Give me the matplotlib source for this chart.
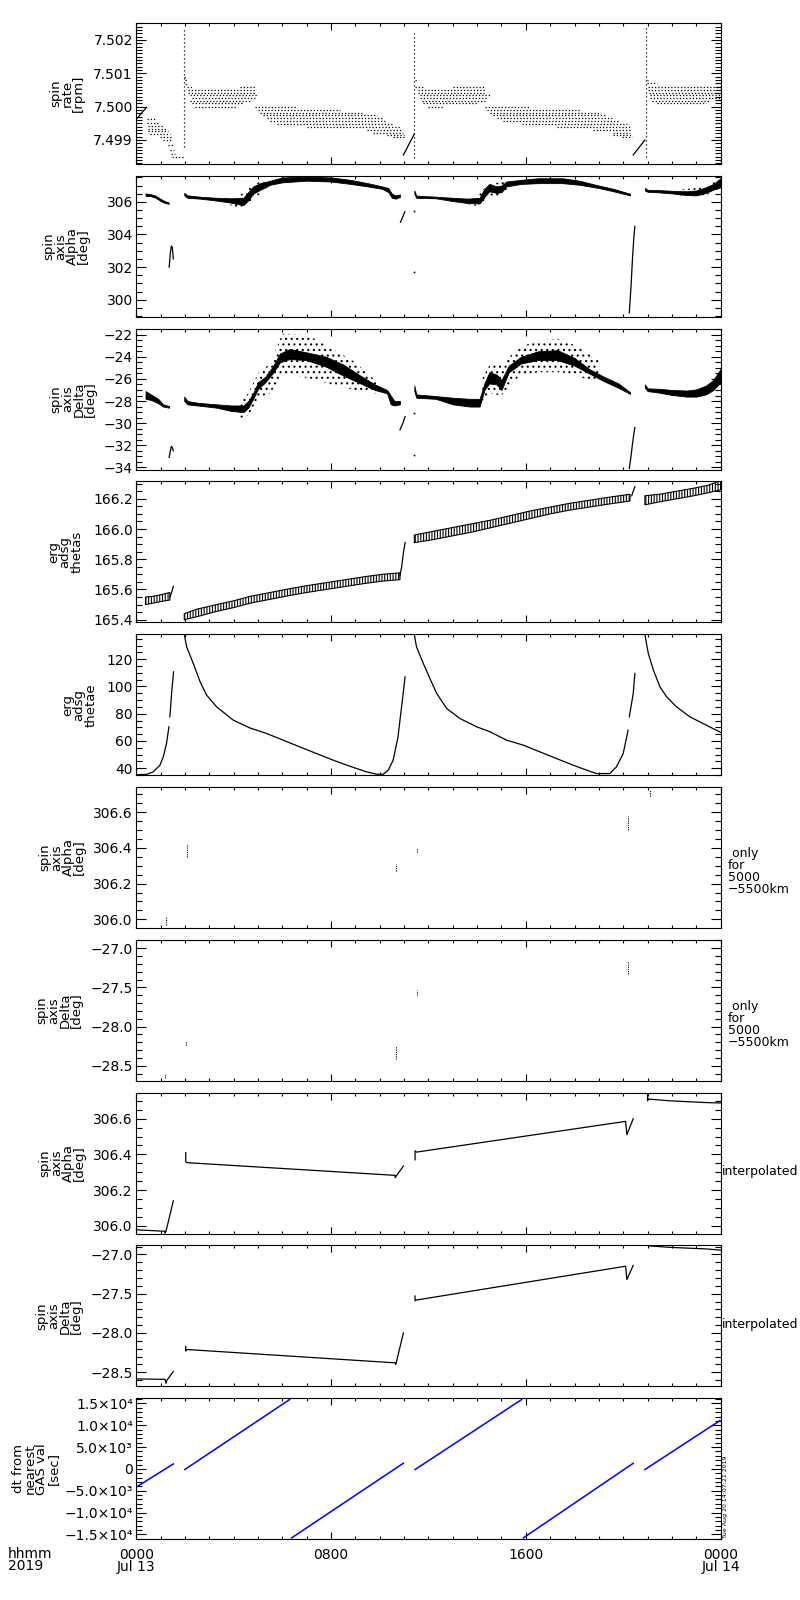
import matplotlib
matplotlib.use('Agg')
import matplotlib.pyplot as plt
from matplotlib.ticker import MultipleLocator, FixedLocator, FixedFormatter, FuncFormatter

plt.rcParams['font.family'] = ['DejaVu Sans']
plt.rcParams['hatch.linewidth'] = 0.8

# time in hours after 2019-07-13 00:00
xtick_hours = [0, 8, 16, 24]
xtick_labels = ['0000\nJul 13', '0800', '1600', '0000\nJul 14']

# ---- panel 1: spin rate [rpm] (quantised rows of points)
rpm_row_level = [7.49962, 7.49950, 7.49942, 7.49934, 7.49926, 7.49918, 7.49910, 7.49900, 7.49885, 7.49870, 7.49858, 7.49850,
                 7.50088, 7.50080, 7.50068,
                 7.50058, 7.50058, 7.50050, 7.50042, 7.50034, 7.50026, 7.50018, 7.50010, 7.49998,
                 7.49998, 7.49990, 7.49982, 7.49974, 7.49966, 7.49958, 7.49948, 7.49940, 7.49930, 7.49922, 7.49915, 7.49908,
                 7.50080, 7.50058, 7.50058, 7.50050, 7.50042, 7.50034, 7.50026, 7.50018, 7.50010, 7.49998,
                 7.49998, 7.49990, 7.49982, 7.49974, 7.49966, 7.49958, 7.49948, 7.49940, 7.49930, 7.49922, 7.49915, 7.49908,
                 7.50080, 7.50072, 7.50058, 7.50050, 7.50042, 7.50034, 7.50026, 7.50018, 7.50010]
rpm_row_t0 = [0.42, 0.42, 0.48, 0.48, 0.48, 0.55, 0.97, 1.11, 1.31, 1.38, 1.42, 1.45,
              1.97, 1.99, 2.00,
              2.07, 4.25, 2.14, 2.14, 2.20, 2.27, 2.20, 2.27, 2.41,
              4.87, 5.00, 5.07, 5.20, 5.35, 5.49, 5.76, 7.00, 9.46, 9.73, 10.28, 10.55,
              11.46, 11.46, 13.02, 11.58, 11.58, 11.65, 11.65, 11.72, 11.79, 11.99,
              14.32, 14.39, 14.53, 14.66, 14.80, 15.07, 15.83, 17.26, 18.77, 19.59, 19.59, 19.93,
              20.96, 20.96, 21.03, 21.03, 21.07, 21.10, 21.12, 21.17, 21.37]
rpm_row_t1 = [0.77, 0.97, 1.11, 1.24, 1.31, 1.38, 1.42, 1.45, 1.52, 1.55, 1.60, 1.93,
              2.03, 2.07, 2.10,
              2.34, 4.87, 4.87, 4.87, 4.94, 4.94, 4.66, 4.39, 4.10,
              6.58, 8.36, 9.30, 9.87, 10.14, 10.28, 10.55, 10.83, 10.90, 10.95, 11.00, 11.00,
              11.55, 11.80, 14.32, 14.32, 14.32, 14.53, 14.39, 14.39, 13.98, 12.61,
              16.17, 18.22, 19.04, 19.31, 19.59, 19.86, 20.14, 20.28, 20.28, 20.28, 20.35, 20.35,
              21.03, 21.37, 24.0, 24.0, 24.0, 24.0, 24.0, 23.56, 23.42]
rpm_spike_t = [1.97, 11.42, 20.92]
rpm_spike_lo = [7.49880, 7.49845, 7.49850]
rpm_spike_hi = [7.50232, 7.50222, 7.50245]
rpm_ramp_t = [[0.0, 0.42], [10.97, 11.42], [20.41, 20.89]]
rpm_ramp_v = [[7.49962, 7.49998], [7.49855, 7.49918], [7.49855, 7.49900]]

# ---- panel 2: spin axis alpha [deg]
alpha_band_t = [[0.38, 0.6, 0.8, 1.0, 1.15, 1.33],
                [1.97, 2.1, 2.6, 3.3, 3.9, 4.4, 4.6, 4.8, 5.1, 5.5, 6.0, 7.0, 8.0, 8.8, 9.5, 10.1, 10.35, 10.5, 10.65, 10.83],
                [11.42, 11.5, 12.3, 13.0, 13.6, 14.1, 14.3, 14.5, 14.8, 15.0, 15.2, 15.8, 16.5, 17.5, 18.2, 19.0, 19.6, 20.28],
                [20.89, 21.0, 21.5, 22.0, 22.6, 23.0, 23.4, 23.7, 24.0]]
alpha_band_lo = [[306.37, 306.35, 306.25, 306.05, 305.95, 305.88],
                 [306.40, 306.25, 306.20, 306.08, 305.95, 305.80, 306.10, 306.50, 306.75, 307.05, 307.20, 307.30, 307.25, 307.10, 306.95, 306.80, 306.60, 306.25, 306.20, 306.30],
                 [306.50, 306.25, 306.22, 306.05, 305.93, 305.90, 306.30, 306.65, 306.55, 306.60, 306.95, 307.10, 307.15, 307.15, 307.05, 306.85, 306.65, 306.40],
                 [306.70, 306.62, 306.58, 306.52, 306.42, 306.40, 306.55, 306.75, 306.90]]
alpha_band_hi = [[306.52, 306.47, 306.38, 306.18, 306.06, 305.96],
                 [306.55, 306.40, 306.32, 306.25, 306.22, 306.25, 306.60, 306.95, 307.15, 307.30, 307.50, 307.55, 307.50, 307.35, 307.15, 306.95, 306.85, 306.50, 306.40, 306.45],
                 [306.70, 306.38, 306.32, 306.25, 306.20, 306.25, 306.80, 307.10, 306.95, 307.00, 307.25, 307.35, 307.45, 307.45, 307.30, 307.00, 306.80, 306.50],
                 [306.85, 306.74, 306.72, 306.68, 306.65, 306.70, 306.90, 307.10, 307.45]]
alpha_cloud_t = [[3.6, 4.2, 4.6, 5.0, 5.4], [13.3, 14.0, 14.4, 14.9, 15.3], [22.3, 23.0, 23.6, 24.0]]
alpha_cloud_lo = [[305.95, 305.6, 305.9, 306.4, 306.9], [305.9, 305.75, 306.2, 306.4, 306.8], [306.35, 306.3, 306.5, 306.8]]
alpha_cloud_hi = [[306.3, 306.35, 306.8, 307.2, 307.4], [306.25, 306.35, 307.0, 307.2, 307.3], [306.75, 306.85, 307.1, 307.5]]
alpha_line_t = [[1.35, 1.40, 1.44, 1.48, 1.52], [10.85, 10.95, 11.03], [20.25, 20.32, 20.38, 20.44, 20.48]]
alpha_line_v = [[302.0, 302.9, 303.3, 303.2, 302.5], [304.75, 305.1, 305.4], [299.2, 300.8, 302.5, 303.9, 304.5]]
alpha_dot_t = [11.42, 11.42]
alpha_dot_v = [305.45, 301.7]

# ---- panel 3: spin axis delta [deg]
delta_band_t = [[0.38, 0.6, 0.9, 1.1, 1.35],
                [1.97, 2.1, 2.5, 3.3, 3.9, 4.4, 4.6, 4.8, 5.0, 5.3, 5.6, 5.9, 6.3, 7.0, 7.8, 8.5, 9.2, 9.8, 10.3, 10.45, 10.6, 10.83],
                [11.42, 11.5, 12.3, 13.0, 13.7, 14.1, 14.3, 14.5, 14.8, 15.0, 15.3, 15.8, 16.5, 17.3, 18.0, 18.6, 19.2, 19.8, 20.28],
                [20.89, 21.0, 21.5, 22.0, 22.6, 23.0, 23.4, 23.7, 24.0]]
delta_band_lo = [[-27.8, -27.9, -28.2, -28.5, -28.6],
                 [-28.0, -28.3, -28.4, -28.6, -28.9, -29.0, -28.6, -27.8, -26.9, -26.3, -25.5, -24.5, -24.2, -24.3, -24.9, -25.7, -26.4, -27.0, -27.3, -28.3, -28.4, -28.3],
                 [-27.1, -27.7, -27.8, -28.3, -28.5, -28.5, -27.0, -26.4, -26.5, -27.0, -25.4, -24.6, -24.3, -24.3, -24.8, -25.5, -26.2, -26.8, -27.35],
                 [-26.8, -27.1, -27.25, -27.45, -27.6, -27.6, -27.4, -27.0, -26.3]]
delta_band_hi = [[-27.1, -27.4, -27.8, -28.3, -28.45],
                 [-27.6, -28.0, -28.15, -28.3, -28.4, -28.4, -28.0, -27.3, -26.3, -25.8, -24.9, -23.7, -23.3, -23.6, -24.0, -24.7, -25.7, -26.5, -27.0, -27.5, -28.0, -28.0],
                 [-26.6, -27.4, -27.55, -27.7, -27.8, -27.8, -26.4, -25.4, -25.6, -26.1, -24.8, -24.0, -23.5, -23.4, -24.1, -25.1, -25.8, -26.4, -27.2],
                 [-26.5, -26.85, -26.9, -27.0, -27.05, -26.95, -26.6, -26.1, -25.1]]
delta_cloud_t = [[4.2, 4.6, 5.0, 5.5, 6.0, 7.0, 8.0, 9.0, 10.0],
                 [14.2, 14.5, 15.0, 15.7, 16.5, 17.5, 18.3, 19.0]]
delta_cloud_lo = [[-29.6, -29.3, -27.8, -27.3, -25.6, -25.9, -26.5, -27.0, -27.4],
                  [-28.0, -27.3, -27.5, -25.8, -25.4, -25.4, -25.9, -26.3]]
delta_cloud_hi = [[-28.2, -27.3, -25.5, -24.6, -21.9, -22.0, -23.2, -24.5, -26.5],
                  [-26.0, -24.8, -24.7, -23.2, -22.5, -22.4, -23.3, -24.3]]
delta_line_t = [[1.35, 1.40, 1.44, 1.48, 1.52], [10.83, 10.95, 11.04], [20.25, 20.32, 20.38, 20.44, 20.48]]
delta_line_v = [[-33.1, -32.5, -32.1, -32.2, -32.5], [-30.6, -30.0, -29.4], [-34.1, -33.0, -31.9, -30.9, -30.4]]
delta_dot_t = [11.42, 11.42]
delta_dot_v = [-29.1, -32.9]

# ---- panel 4: erg adsg thetas
thetas_band_t = [[0.38, 0.7, 1.0, 1.38],
                 [1.97, 2.5, 3.3, 4.0, 4.7, 5.5, 6.3, 7.0, 7.8, 8.6, 9.4, 10.1, 10.83],
                 [11.42, 12.2, 13.0, 13.8, 14.6, 15.4, 16.2, 17.0, 17.8, 18.6, 19.4, 20.28],
                 [20.89, 21.5, 22.2, 22.9, 23.5, 24.0]]
thetas_band_lo = [[165.50, 165.51, 165.52, 165.53],
                  [165.40, 165.42, 165.455, 165.48, 165.51, 165.535, 165.56, 165.58, 165.60, 165.62, 165.64, 165.655, 165.665],
                  [165.91, 165.93, 165.955, 165.98, 166.01, 166.04, 166.07, 166.10, 166.125, 166.145, 166.165, 166.185],
                  [166.16, 166.18, 166.20, 166.22, 166.24, 166.26]]
thetas_band_hi = [[165.55, 165.555, 165.565, 165.58],
                  [165.44, 165.47, 165.50, 165.525, 165.555, 165.58, 165.605, 165.625, 165.645, 165.665, 165.685, 165.70, 165.71],
                  [165.96, 165.985, 166.01, 166.035, 166.06, 166.09, 166.12, 166.145, 166.17, 166.19, 166.21, 166.23],
                  [166.22, 166.23, 166.25, 166.27, 166.29, 166.32]]
thetas_line_t = [[1.38, 1.45, 1.52], [10.83, 10.9, 10.97, 11.04], [20.35, 20.41, 20.48]]
thetas_line_v = [[165.55, 165.58, 165.62], [165.69, 165.75, 165.84, 165.91], [166.22, 166.25, 166.28]]

# ---- panel 5: erg adsg thetae
thetae_t = [[0.0, 0.42, 0.7, 0.97, 1.11, 1.24, 1.34],
            [1.38, 1.45, 1.53],
            [1.95, 2.07, 2.34, 2.62, 2.89, 3.3, 3.98, 4.66, 5.35, 6.03, 6.71, 7.4, 8.09, 8.77, 9.45, 9.87,
             10.14, 10.35, 10.55, 10.75, 10.83, 10.93, 11.04],
            [11.40, 11.51, 11.79, 12.06, 12.34, 12.75, 13.29, 13.98, 14.53, 15.21, 15.9, 16.58, 17.26, 17.95,
             18.5, 18.9, 19.45, 19.72, 20.0, 20.2],
            [20.25, 20.41, 20.48],
            [20.87, 21.03, 21.24, 21.51, 21.78, 22.19, 22.74, 23.28, 24.0]]
thetae_v = [[35.2, 35.5, 37.4, 42.2, 48.4, 58.1, 70.4],
            [77.7, 95.0, 110.7],
            [140.0, 129.0, 116.8, 103.4, 93.6, 85.0, 75.3, 69.6, 65.5, 60.6, 55.7, 50.8, 45.9, 41.5, 37.4, 35.6,
             35.6, 38.6, 45.9, 63.0, 75.3, 90.0, 107.0],
            [140.0, 129.0, 116.8, 105.8, 94.8, 83.8, 76.5, 70.4, 66.7, 60.6, 56.9, 52.0, 47.1, 42.2,
             38.6, 36.1, 36.1, 41.0, 50.8, 67.9],
            [77.7, 94.8, 109.5],
            [140.0, 124.2, 111.9, 99.7, 92.4, 85.0, 77.7, 72.8, 66.3]]

# ---- panels 6/7: values only for 5000-5500 km (short vertical marks)
alpha_only_t = [1.20, 2.08, 10.65, 11.51, 20.20, 21.08]
alpha_only_lo = [305.970, 306.350, 306.270, 306.380, 306.500, 306.690]
alpha_only_hi = [306.015, 306.420, 306.310, 306.400, 306.580, 306.725]
delta_only_t = [1.18, 2.06, 10.65, 11.51, 20.20]
delta_only_lo = [-28.66, -28.24, -28.41, -27.60, -27.33]
delta_only_hi = [-28.60, -28.18, -28.25, -27.54, -27.16]

# ---- panels 8/9: interpolated
alpha_interp_t = [[0.0, 1.18, 1.18, 1.22, 1.52],
                  [2.03, 2.03, 2.07, 10.63, 10.63, 10.97],
                  [11.45, 11.45, 11.51, 20.10, 20.15, 20.41],
                  [21.0, 21.0, 21.03, 21.92, 23.42, 24.0]]
alpha_interp_v = [[305.978, 305.970, 305.960, 305.970, 306.140],
                  [306.410, 306.360, 306.354, 306.283, 306.270, 306.335],
                  [306.370, 306.420, 306.413, 306.585, 306.510, 306.600],
                  [306.745, 306.700, 306.710, 306.700, 306.690, 306.688]]
delta_interp_t = [[0.0, 1.18, 1.22, 1.26, 1.52],
                  [2.03, 2.03, 2.07, 10.63, 10.66, 10.97],
                  [11.45, 11.45, 11.51, 20.10, 20.15, 20.41],
                  [21.0, 21.03, 21.92, 23.42, 24.0]]
delta_interp_v = [[-28.585, -28.59, -28.64, -28.60, -28.49],
                  [-28.17, -28.23, -28.21, -28.38, -28.40, -28.00],
                  [-27.53, -27.59, -27.58, -27.15, -27.32, -27.14],
                  [-26.87, -26.89, -26.91, -26.93, -26.945]]

# ---- panel 10: dt from nearest GAS val [sec]
dt_t = [[0.0, 1.52], [1.99, 6.30], [6.38, 10.97], [11.45, 15.83], [15.90, 20.41], [20.89, 23.97]]
dt_v = [[-4170, 1140], [-150, 15900], [-15800, 1300], [-150, 15900], [-15800, 1290], [-150, 11060]]
dt_tick_values = [-15000, -10000, -5000, 0, 5000, 10000, 15000]
dt_tick_labels = ['\u22121.5\u00d710\u2074', '\u22121.0\u00d710\u2074', '\u22125.0\u00d710\u00b3', '0',
                  '5.0\u00d710\u00b3', '1.0\u00d710\u2074', '1.5\u00d710\u2074']

ylabels = ['spin\nrate\n[rpm]', 'spin\naxis\nAlpha\n[deg]', 'spin\naxis\nDelta\n[deg]', 'erg\nadsg\nthetas',
           'erg\nadsg\nthetae', 'spin\naxis\nAlpha\n[deg]', 'spin\naxis\nDelta\n[deg]', 'spin\naxis\nAlpha\n[deg]',
           'spin\naxis\nDelta\n[deg]', 'dt from\nnearest\nGAS val\n[sec]']
ylims = [(7.49828, 7.50251), (298.95, 307.6), (-34.2, -21.45), (165.382, 166.315), (34.9, 138.3),
         (305.951, 306.742), (-28.693, -26.893), (305.957, 306.746), (-28.68, -26.885), (-16100, 16200)]
ymajor = [0.001, 2, 2, 0.2, 20, 0.2, 0.5, 0.2, 0.5, None]
yminor = [0.0001, 0.5, 0.5, 0.05, 5, 0.05, 0.1, 0.05, 0.1, 1000]
yfmt = ['%.3f', '%d', '%d', '%.1f', '%d', '%.1f', '%.1f', '%.1f', '%.1f', None]
label_x = [-0.088, -0.079, -0.067, -0.091, -0.067, -0.086, -0.091, -0.086, -0.091, -0.131]


def fmt_func(f):
    return FuncFormatter(lambda v, p: (f % v).replace('-', '\u2212'))


fig = plt.figure(figsize=(8, 16), dpi=100)
axes = []
for i in range(10):
    top = 23 + 152.8 * i
    ax = fig.add_axes([136.3 / 800, 1 - (top + 141) / 1600, 584.3 / 800, 141 / 1600])
    ax.set_xlim(0, 24)
    ax.set_ylim(*ylims[i])
    ax.xaxis.set_major_locator(FixedLocator(xtick_hours))
    ax.xaxis.set_minor_locator(MultipleLocator(1))
    if ymajor[i] is None:
        ax.yaxis.set_major_locator(FixedLocator(dt_tick_values))
        ax.yaxis.set_major_formatter(FixedFormatter(dt_tick_labels))
    else:
        ax.yaxis.set_major_locator(MultipleLocator(ymajor[i]))
        ax.yaxis.set_major_formatter(fmt_func(yfmt[i]))
    ax.yaxis.set_minor_locator(MultipleLocator(yminor[i]))
    ax.tick_params(which='both', direction='in', top=True, right=True, width=0.8, labelsize=10)
    ax.tick_params(axis='y', which='major', length=7.5, pad=2.5)
    ax.tick_params(axis='y', which='minor', length=4.3)
    ax.tick_params(axis='x', which='major', length=5, pad=6)
    ax.tick_params(axis='x', which='minor', length=2.5)
    for s in ax.spines.values():
        s.set_linewidth(0.8)
    ax.set_ylabel(ylabels[i], fontsize=9.5, linespacing=0.85)
    ax.yaxis.set_label_coords(label_x[i], 0.5)
    if i < 9:
        ax.xaxis.set_major_formatter(FixedFormatter([''] * 4))
    else:
        ax.xaxis.set_major_formatter(FixedFormatter(xtick_labels))
        plt.setp(ax.get_xticklabels(), linespacing=0.85)
    axes.append(ax)

lw = 0.9
dots = (0, (1, 1.6))

# panel 1
ax = axes[0]
for lvl, t0, t1 in zip(rpm_row_level, rpm_row_t0, rpm_row_t1):
    ax.plot([t0, t1], [lvl, lvl], color='k', lw=lw, ls=dots)
for t, lo, hi in zip(rpm_spike_t, rpm_spike_lo, rpm_spike_hi):
    ax.plot([t, t], [lo, hi], color='k', lw=lw, ls=(0, (1, 2.2)))
for t, v in zip(rpm_ramp_t, rpm_ramp_v):
    ax.plot(t, v, color='k', lw=lw)

# panel 2, 3
for ax, bt, blo, bhi, lt, lv, dt_, dv in [
        (axes[1], alpha_band_t, alpha_band_lo, alpha_band_hi, alpha_line_t, alpha_line_v, alpha_dot_t, alpha_dot_v),
        (axes[2], delta_band_t, delta_band_lo, delta_band_hi, delta_line_t, delta_line_v, delta_dot_t, delta_dot_v)]:
    for t, lo, hi in zip(bt, blo, bhi):
        ax.fill_between(t, lo, hi, color='k', lw=0.6)
    for t, v in zip(lt, lv):
        ax.plot(t, v, color='k', lw=lw)
    ax.plot(dt_, dv, 'ks', ms=1.2, mew=0)
for t, lo, hi in zip(alpha_cloud_t, alpha_cloud_lo, alpha_cloud_hi):
    axes[1].fill_between(t, lo, hi, facecolor='none', edgecolor='k', hatch='...', lw=0)
for t, lo, hi in zip(delta_cloud_t, delta_cloud_lo, delta_cloud_hi):
    axes[2].fill_between(t, lo, hi, facecolor='none', edgecolor='k', hatch='...', lw=0)

# panel 4
for t, lo, hi in zip(thetas_band_t, thetas_band_lo, thetas_band_hi):
    axes[3].fill_between(t, lo, hi, facecolor='none', edgecolor='k', hatch='||||||', lw=0.8)
for t, v in zip(thetas_line_t, thetas_line_v):
    axes[3].plot(t, v, color='k', lw=lw)

# panel 5
for t, v in zip(thetae_t, thetae_v):
    axes[4].plot(t, v, color='k', lw=lw)

# panels 6, 7
for t, lo, hi in zip(alpha_only_t, alpha_only_lo, alpha_only_hi):
    axes[5].plot([t, t], [lo, hi], color='k', lw=0.8, ls=(0, (1, 1)))
for t, lo, hi in zip(delta_only_t, delta_only_lo, delta_only_hi):
    axes[6].plot([t, t], [lo, hi], color='k', lw=0.8, ls=(0, (1, 1)))
for ax in axes[5:7]:
    ax.text(1.0127, 0.40, ' only\nfor\n5000\n\u22125500km', transform=ax.transAxes,
            ha='left', va='center', fontsize=9, linespacing=0.9)

# panels 8, 9
for t, v in zip(alpha_interp_t, alpha_interp_v):
    axes[7].plot(t, v, color='k', lw=lw)
for t, v in zip(delta_interp_t, delta_interp_v):
    axes[8].plot(t, v, color='k', lw=lw)
for ax in axes[7:9]:
    ax.text(1.003, 0.44, 'interpolated', transform=ax.transAxes, ha='left', va='center', fontsize=9)

# panel 10
for t, v in zip(dt_t, dt_v):
    axes[9].plot(t, v, color='#0000ff', lw=1.1)

fig.text(8 / 800, 1 - 1547 / 1600, 'hhmm\n2019', ha='left', va='top', fontsize=10, linespacing=0.85)
fig.text(725 / 800, 1 - 1538 / 1600, 'Tue Aug 20 14:07:21 2019', rotation=90, fontsize=4.5,
         ha='center', va='bottom')

fig.savefig('out.png', dpi=100)
